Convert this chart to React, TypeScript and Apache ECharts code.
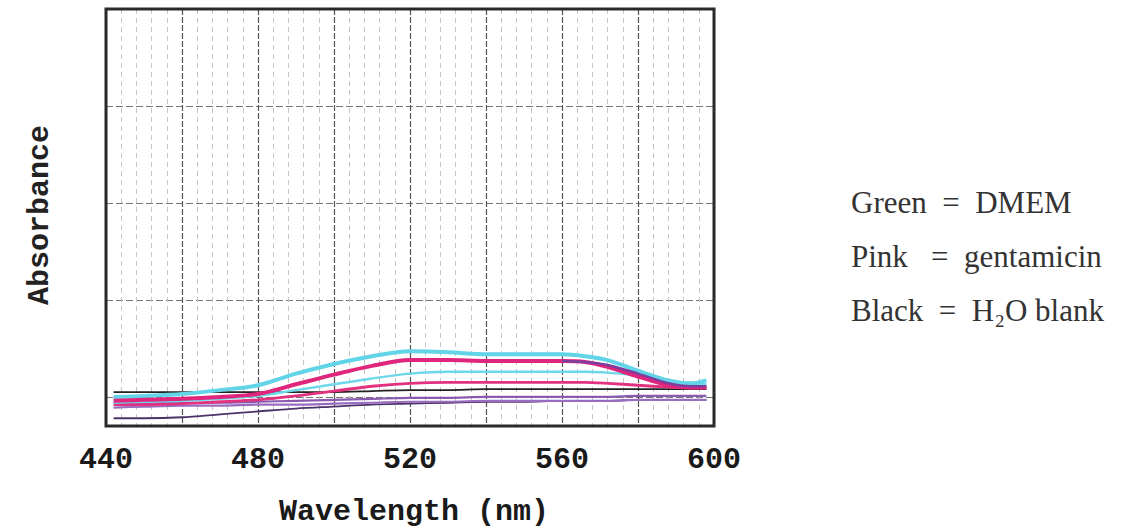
import React, { useEffect, useRef } from "react";
import * as echarts from "echarts";

// Wavelength grid (nm) shared by all traces
const wavelengths = [442, 450, 460, 470, 480, 490, 500, 510, 520, 530, 540, 550, 560, 566, 572, 580, 588, 594, 598];

// Absorbance traces
const dmemHigh = [0.030, 0.031, 0.033, 0.037, 0.042, 0.054, 0.064, 0.072, 0.077, 0.076, 0.074, 0.074, 0.074, 0.072, 0.068, 0.057, 0.047, 0.044, 0.047];
const gentHigh = [0.026, 0.027, 0.028, 0.030, 0.033, 0.043, 0.053, 0.062, 0.068, 0.068, 0.067, 0.067, 0.067, 0.066, 0.061, 0.051, 0.042, 0.040, 0.040];
const violetDrop = [null, null, null, null, null, null, null, null, null, null, null, null, 0.067, 0.066, 0.063, 0.054, 0.044, 0.041, 0.041];
const dmemLow = [0.024, 0.025, 0.026, 0.028, 0.031, 0.037, 0.043, 0.049, 0.054, 0.056, 0.056, 0.056, 0.056, 0.056, 0.055, 0.052, 0.045, 0.043, 0.043];
const gentLow = [0.022, 0.022, 0.023, 0.025, 0.027, 0.031, 0.036, 0.041, 0.044, 0.045, 0.045, 0.045, 0.045, 0.045, 0.044, 0.042, 0.040, 0.039, 0.039];
const blankHigh = [0.035, 0.035, 0.035, 0.035, 0.035, 0.035, 0.035, 0.036, 0.037, 0.037, 0.038, 0.038, 0.038, 0.038, 0.038, 0.038, 0.038, 0.038, 0.038];
const purpleHigh = [0.023, 0.023, 0.024, 0.024, 0.025, 0.026, 0.027, 0.028, 0.029, 0.029, 0.030, 0.030, 0.030, 0.030, 0.030, 0.031, 0.031, 0.031, 0.031];
const purpleLow = [0.019, 0.020, 0.021, 0.021, 0.022, 0.022, 0.023, 0.024, 0.025, 0.025, 0.026, 0.026, 0.026, 0.026, 0.026, 0.027, 0.027, 0.027, 0.027];
const blankLow = [0.008, 0.008, 0.009, 0.012, 0.015, 0.018, 0.020, 0.022, 0.023, 0.024, 0.025, 0.025, 0.026, 0.026, 0.026, 0.027, 0.027, 0.027, 0.027];

// Axis settings
const xMin = 440;
const xMax = 600;
const xStep = 20;
const xLabelStep = 40;
const yMax = 0.43;
const gridRowsMax = 4.3; // horizontal grid rows counted from the top

const xTitle = "Wavelength (nm)";
const yTitle = "Absorbance";
const legendLines = ["Green  =  DMEM", "Pink   =  gentamicin", "Black  =  H\u2082O blank"];

const pair = (vals: (number | null)[]) => wavelengths.map((w, i) => [w, vals[i]]);

export default function App() {
  const ref = useRef<HTMLDivElement>(null);
  useEffect(() => {
    if (!ref.current) return;
    const chart = echarts.init(ref.current, null, { renderer: "svg" });
    const mono = "Liberation Mono";
    const line = (name: string, data: (number | null)[], color: string, width: number, z: number) => ({
      name,
      type: "line",
      data: pair(data),
      smooth: 0.3,
      showSymbol: false,
      symbol: "none",
      connectNulls: false,
      z,
      lineStyle: { color, width },
    });
    chart.setOption({
      animation: false,
      backgroundColor: "#ffffff",
      grid: {
        left: 106,
        top: 9,
        width: 608,
        height: 417,
        show: true,
        borderColor: "#2a2a2a",
        borderWidth: 3,
        backgroundColor: "transparent",
        z: 10,
      },
      xAxis: {
        type: "value",
        min: xMin,
        max: xMax,
        interval: xStep,
        axisLine: { show: false },
        axisTick: { show: false },
        axisLabel: {
          margin: 19,
          fontFamily: mono,
          fontWeight: "bold",
          fontSize: 30,
          color: "#1a1a1a",
          formatter: (v: number) => ((v - xMin) % xLabelStep === 0 ? String(v) : ""),
        },
        splitLine: { show: true, lineStyle: { color: "#555", width: 1.2, type: [6, 2] } },
        minorTick: { show: false, splitNumber: 5 },
        minorSplitLine: { show: true, lineStyle: { color: "#c4c4c4", width: 1, type: [5, 4] } },
      },
      yAxis: [
        {
          type: "value",
          min: 0,
          max: yMax,
          axisLine: { show: false },
          axisTick: { show: false },
          axisLabel: { show: false },
          splitLine: { show: false },
        },
        {
          type: "value",
          inverse: true,
          min: 0,
          max: gridRowsMax,
          interval: 1,
          axisLine: { show: false },
          axisTick: { show: false },
          axisLabel: { show: false },
          splitLine: { show: true, lineStyle: { color: "#777", width: 1.2, type: [7, 3] } },
        },
      ],
      graphic: [
        {
          type: "text",
          x: 40,
          y: 215,
          rotation: Math.PI / 2,
          style: {
            text: yTitle,
            fontFamily: mono,
            fontWeight: "bold",
            fontSize: 30,
            fill: "#222",
            align: "center",
            verticalAlign: "middle",
          },
        },
        {
          type: "text",
          x: 414,
          y: 512,
          style: {
            text: xTitle,
            fontFamily: mono,
            fontWeight: "bold",
            fontSize: 30,
            fill: "#1a1a1a",
            align: "center",
            verticalAlign: "middle",
          },
        },
        ...legendLines.map((t, i) => ({
          type: "text",
          x: 851,
          y: 202 + i * 54,
          style: {
            text: t,
            fontFamily: "Liberation Serif",
            fontSize: 31,
            fill: "#333",
            align: "left",
            verticalAlign: "middle",
          },
        })),
      ],
      series: [
        line("dark blank", blankLow, "#4b3369", 1.8, 2),
        line("purple low", purpleLow, "#9a6cc0", 2.2, 3),
        line("purple high", purpleHigh, "#8a5ab0", 2.2, 3),
        line("blank", blankHigh, "#222222", 1.8, 4),
        line("gentamicin low", gentLow, "#e2327f", 2.8, 5),
        line("DMEM low", dmemLow, "#6cd8ea", 2.4, 5),
        line("DMEM high", dmemHigh, "#62d4e8", 4, 6),
        line("gentamicin high", gentHigh, "#e0257c", 4, 7),
        line("violet drop", violetDrop, "#7b3d9e", 2.5, 8),
      ],
    });
    return () => chart.dispose();
  }, []);
  return (
    <div
      ref={ref}
      style={{ position: "absolute", left: 0, top: 0, width: 1133, height: 532, background: "#fff" }}
    />
  );
}
